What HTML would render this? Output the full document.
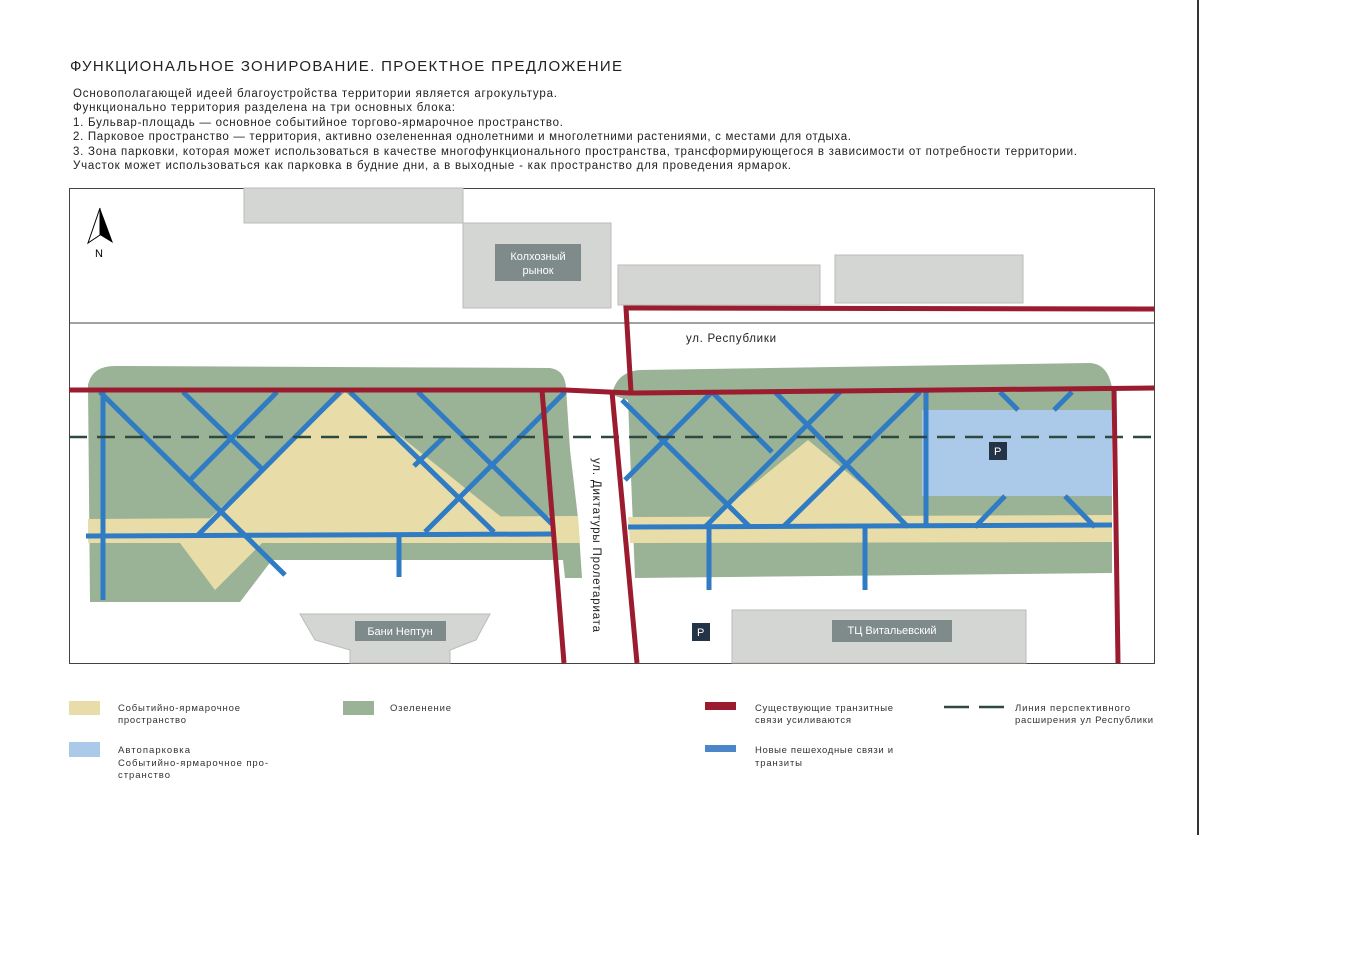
<!DOCTYPE html>
<html><head><meta charset="utf-8"><style>
body{margin:0;background:#fff;width:1366px;height:951px;overflow:hidden;font-family:"Liberation Sans",sans-serif;}
</style></head><body>
<svg width="1366" height="951" xmlns="http://www.w3.org/2000/svg" font-family="Liberation Sans, sans-serif">
<line x1="1198" y1="0" x2="1198" y2="835" stroke="#333" stroke-width="2"/>
<text x="70" y="71" font-size="15" fill="#222" textLength="552" lengthAdjust="spacing">ФУНКЦИОНАЛЬНОЕ ЗОНИРОВАНИЕ. ПРОЕКТНОЕ ПРЕДЛОЖЕНИЕ</text>
<g font-size="11.5" fill="#222" lengthAdjust="spacing">
<text x="73" y="97" textLength="484">Основополагающей идеей благоустройства территории является агрокультура.</text>
<text x="73" y="111" textLength="382">Функционально территория разделена на три основных блока:</text>
<text x="73" y="126" textLength="490">1. Бульвар-площадь — основное событийное торгово-ярмарочное пространство.</text>
<text x="73" y="140" textLength="778">2. Парковое пространство — территория, активно озелененная однолетними и многолетними растениями, с местами для отдыха.</text>
<text x="73" y="155" textLength="1004">3. Зона парковки, которая может использоваться в качестве многофункционального пространства, трансформирующегося в зависимости от потребности территории.</text>
<text x="73" y="169" textLength="718">Участок может использоваться как парковка в будние дни, а в выходные - как пространство для проведения  ярмарок.</text>
</g>
<rect x="69.5" y="188.5" width="1085" height="475" fill="#fff" stroke="#444"/>
<line x1="69" y1="323" x2="1154" y2="323" stroke="#444"/>
<g fill="#d4d6d3" stroke="#bbb">
<rect x="244" y="188" width="219" height="35"/>
<rect x="463" y="223" width="148" height="85"/>
<rect x="618" y="265" width="202" height="40"/>
<rect x="835" y="255" width="188" height="48"/>
<rect x="732" y="610" width="294" height="53"/>
<polygon points="300,614 490,614 476,640 450,650 450,663 350,663 350,650 315,640"/>
</g>
<polygon points="100,208 88,243 100,235" fill="#fff" stroke="#000"/>
<polygon points="100,208 113,243 100,235" fill="#000"/>
<text x="95" y="257" font-size="11">N</text>
<path d="M88,385 Q92,366 115,366 L550,368 Q565,370 566,388 L570,450 L578,518 L582,578 L565,578 L563,560 L272,560 L240,602 L90,602 Z" fill="#9ab296"/>
<polygon points="88,519 578,516 580,543 88,543" fill="#e8dda8"/>
<polygon points="345,392 505,520 197,530" fill="#e8dda8"/>
<polygon points="180,543 262,543 215,590" fill="#e8dda8"/>
<path d="M612,395 Q616,372 640,370 L1090,363 Q1108,364 1112,388 L1112,573 L635,578 L628,400 Z" fill="#9ab296"/>
<polygon points="628,517 1112,515 1112,542 630,543" fill="#e8dda8"/>
<polygon points="808,440 905,520 710,520" fill="#e8dda8"/>
<rect x="922" y="410" width="190" height="86" fill="#abc9e8"/>
<g stroke="#2f7bc4" stroke-width="5" fill="none">
<line x1="103" y1="392" x2="103" y2="600"/>
<line x1="86" y1="536" x2="552" y2="534"/>
<line x1="399" y1="536" x2="399" y2="577"/>
<line x1="100" y1="392" x2="285" y2="575"/>
<line x1="183" y1="392" x2="263" y2="470"/>
<line x1="277" y1="392" x2="190" y2="480"/>
<line x1="340" y1="392" x2="197" y2="536"/>
<line x1="350" y1="392" x2="494" y2="532"/>
<line x1="418" y1="392" x2="552" y2="524"/>
<line x1="565" y1="392" x2="425" y2="532"/>
<line x1="444" y1="437" x2="414" y2="466"/>
<line x1="628" y1="527" x2="1112" y2="525"/>
<line x1="709" y1="527" x2="709" y2="590"/>
<line x1="865" y1="527" x2="865" y2="590"/>
<line x1="926" y1="392" x2="926" y2="527"/>
<line x1="622" y1="400" x2="750" y2="527"/>
<line x1="712" y1="392" x2="625" y2="480"/>
<line x1="712" y1="392" x2="772" y2="452"/>
<line x1="775" y1="392" x2="908" y2="527"/>
<line x1="840" y1="392" x2="705" y2="527"/>
<line x1="920" y1="392" x2="783" y2="527"/>
<line x1="1000" y1="392" x2="1018" y2="410"/>
<line x1="1072" y1="392" x2="1054" y2="410"/>
<line x1="1005" y1="496" x2="975" y2="527"/>
<line x1="1065" y1="496" x2="1095" y2="527"/>
</g>
<line x1="69" y1="437" x2="1154" y2="437" stroke="#2e4a40" stroke-width="2.5" stroke-dasharray="18,10"/>
<g stroke="#9b1c2e" stroke-width="5" fill="none">
<polyline points="69,390 565,390 630,393 1154,388"/>
<polyline points="631,392 626,308 1154,309"/>
<line x1="542" y1="390" x2="564" y2="663"/>
<line x1="612" y1="392" x2="637" y2="663"/>
<line x1="1114" y1="388" x2="1118" y2="663"/>
</g>
<rect x="989" y="442" width="18" height="18" fill="#243447"/><text x="994" y="455" font-size="11" fill="#fff">P</text>
<rect x="692" y="623" width="18" height="18" fill="#243447"/><text x="697" y="636" font-size="11" fill="#fff">P</text>
<rect x="495" y="244" width="86" height="37" fill="#7f8a8a"/>
<text x="538" y="260" font-size="11" fill="#fff" text-anchor="middle">Колхозный</text>
<text x="538" y="274" font-size="11" fill="#fff" text-anchor="middle">рынок</text>
<rect x="355" y="621" width="91" height="20" fill="#7f8a8a"/>
<text x="400" y="635" font-size="11" fill="#fff" text-anchor="middle">Бани Нептун</text>
<rect x="832" y="620" width="120" height="22" fill="#7f8a8a"/>
<text x="892" y="634" font-size="11" fill="#fff" text-anchor="middle">ТЦ Витальевский</text>
<text x="686" y="342" font-size="11.5" fill="#222" textLength="90" lengthAdjust="spacing">ул. Республики</text>
<text transform="translate(593,458) rotate(90)" font-size="11.5" fill="#222" textLength="174" lengthAdjust="spacing">ул. Диктатуры Пролетариата</text>
<rect x="69" y="701" width="31" height="14" fill="#e8dda8"/>
<rect x="343" y="701" width="31" height="14" fill="#9ab296"/>
<rect x="69" y="742" width="31" height="15" fill="#abc9e8"/>
<rect x="705" y="702" width="31" height="8" fill="#9b1c2e"/>
<rect x="705" y="745" width="31" height="7" fill="#4a86c8"/>
<line x1="944" y1="707" x2="1004" y2="707" stroke="#2e4a40" stroke-width="2.5" stroke-dasharray="25,10"/>
<g font-size="9.5" fill="#333" lengthAdjust="spacing">
<text x="118" y="711" textLength="122">Событийно-ярмарочное</text><text x="118" y="723" textLength="68">пространство</text>
<text x="390" y="711" textLength="61">Озеленение</text>
<text x="118" y="753" textLength="72">Автопарковка</text><text x="118" y="766" textLength="150">Событийно-ярмарочное про-</text><text x="118" y="778" textLength="52">странство</text>
<text x="755" y="711" textLength="138">Существующие транзитные</text><text x="755" y="723" textLength="96">связи усиливаются</text>
<text x="755" y="753" textLength="138">Новые пешеходные связи и</text><text x="755" y="766" textLength="47">транзиты</text>
<text x="1015" y="711" textLength="115">Линия перспективного</text><text x="1015" y="723" textLength="138">расширения ул Республики</text>
</g>
</svg>
</body></html>
